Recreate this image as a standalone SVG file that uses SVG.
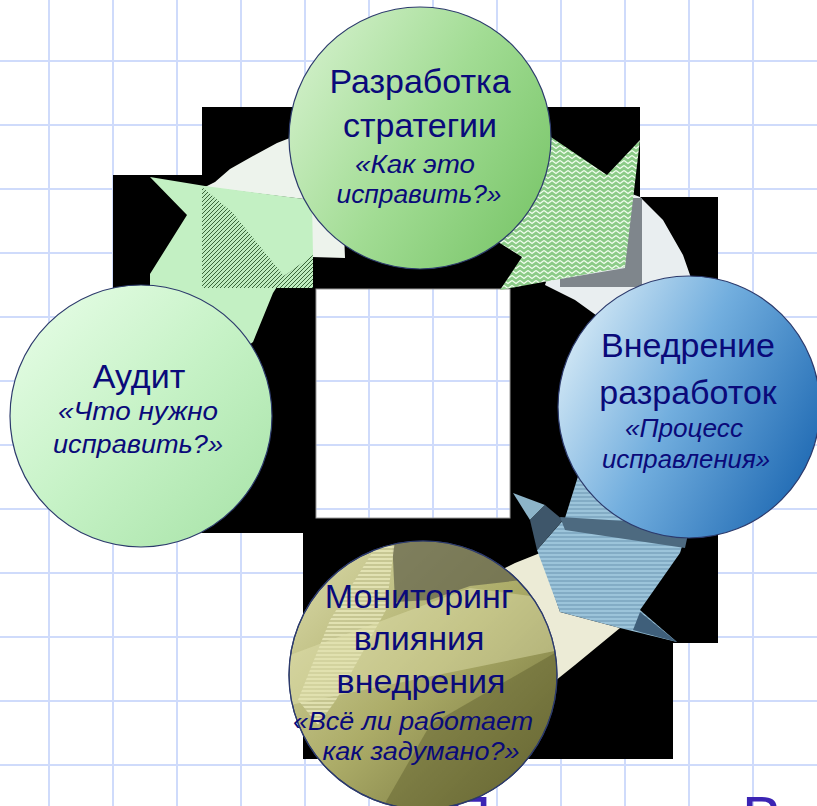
<svg xmlns="http://www.w3.org/2000/svg" width="817" height="806" viewBox="0 0 817 806">
<style>
.t{font-family:"Liberation Sans",Arial,sans-serif;fill:#0a0a7a;text-anchor:middle}
.h{font-size:34px}
.i{font-size:25px;font-style:italic}
.node{stroke:#2c3a6c;stroke-width:1.2}
.grid{stroke:#cfdbfb;stroke-width:2;fill:none}
</style>
<defs>
<linearGradient id="gA" x1="0" y1="0" x2="1" y2="1"><stop offset="0" stop-color="#eafeea"/><stop offset="0.5" stop-color="#c6f2c6"/><stop offset="1" stop-color="#a6e2a6"/></linearGradient>
<linearGradient id="gS" x1="0" y1="0.2" x2="1" y2="0.8"><stop offset="0" stop-color="#d2f0ca"/><stop offset="0.5" stop-color="#a2dc94"/><stop offset="1" stop-color="#7ac66a"/></linearGradient>
<linearGradient id="gI" x1="0" y1="0.25" x2="1" y2="0.75"><stop offset="0" stop-color="#d6eaf6"/><stop offset="0.45" stop-color="#72aede"/><stop offset="1" stop-color="#1d68b2"/></linearGradient>
<linearGradient id="gM" x1="0" y1="0" x2="1" y2="1"><stop offset="0" stop-color="#dcdcac"/><stop offset="0.5" stop-color="#acac68"/><stop offset="1" stop-color="#6a6a34"/></linearGradient>
<pattern id="hatch" width="4" height="4" patternUnits="userSpaceOnUse"><rect width="4" height="4" fill="#bfecbf"/><path d="M0,4 L4,0" stroke="#3a663a" stroke-width="1"/></pattern>
<pattern id="zig" width="8" height="5" patternUnits="userSpaceOnUse"><rect width="8" height="5" fill="#8ccb88"/><path d="M0,0.5 L4,3.5 L8,0.5" stroke="#f2fff0" stroke-width="1.3" fill="none"/></pattern>
<pattern id="hstripe" width="4" height="4" patternUnits="userSpaceOnUse"><rect width="4" height="4" fill="#9cc4da"/><path d="M0,1 H4" stroke="#6a94b0" stroke-width="1"/></pattern>
<pattern id="ystripe" width="4" height="4" patternUnits="userSpaceOnUse"><rect width="4" height="4" fill="#e6e6b8"/><path d="M0,1 H4" stroke="#a8a870" stroke-width="1"/></pattern>
<clipPath id="cM"><circle cx="423" cy="675" r="134"/></clipPath>
</defs>
<rect width="817" height="806" fill="#ffffff"/>
<path class="grid" d="M49,0V806M113,0V806M177,0V806M241,0V806M305,0V806M369,0V806M433,0V806M497,0V806M561,0V806M625,0V806M689,0V806M753,0V806M0,61H817M0,125H817M0,189H817M0,253H817M0,317H817M0,381H817M0,445H817M0,509H817M0,573H817M0,637H817M0,701H817M0,765H817"/>
<g id="backdrop">
<path fill="#000" fill-rule="evenodd" d="M202,107H640V197H718V643H673V759H303V533H113V175H202Z M316,289H510V518H316Z"/>
<rect x="316" y="289" width="194" height="229" fill="none" stroke="#9a9a9a" stroke-width="1"/>
</g>
<g id="title">
<text x="448" y="838" font-family="Liberation Sans,Arial,sans-serif" font-size="60" fill="#3b24b4">П</text>
<text x="742" y="838" font-family="Liberation Sans,Arial,sans-serif" font-size="60" fill="#3b24b4">В</text>
</g>
<g id="connectors">
<path fill="#edf3ec" d="M205,187L215,182L230,169L253,156L277,143L300,134L340,128L345,258L312,257L312,200Z"/>
<path fill="#c3f0c3" d="M150,177L205,186L312,200L313,256L284,276L273,293L253,342L230,360L150,330L150,274L187,215Z"/>
<path fill="url(#hatch)" d="M202,187L232,212L284,276L313,255L313,288L202,288Z"/>
<path fill="#e9eef0" d="M590,178L640,197L663,220L683,255L697,295L640,340L600,318L575,300L545,285L560,240Z"/>
<path fill="#7f868c" d="M628,198L642,198L642,287L560,287L560,279L625,268Z"/>
<path fill="url(#zig)" d="M545,133L607,175L640,140L625,267L500,290L522,257L495,240Z"/>
<path fill="#ecebd6" d="M485,578L515,563L540,553L560,612L620,628L575,665L550,685L520,700Z"/>
<path fill="url(#hstripe)" d="M537,550L565,518L580,470L690,520L680,553L640,610L677,642L620,628L560,612Z"/>
<path fill="#8db4c8" d="M513,493L545,505L530,520Z"/>
<path fill="#3e566a" d="M530,520L545,505L563,520L537,550Z"/>
<path fill="#4d6a80" d="M560,517L690,525L685,548L565,530Z"/>
<path fill="#3f5f7a" d="M640,612L677,642L633,630Z"/>
</g>
<g id="node-audit">
<circle class="node" cx="141" cy="416" r="131" fill="url(#gA)"/>
<text class="t h" x="139" y="388">Аудит</text>
<text class="t i" x="138" y="420" textLength="160" lengthAdjust="spacingAndGlyphs">«Что нужно</text>
<text class="t i" x="138" y="453" textLength="170" lengthAdjust="spacingAndGlyphs">исправить?»</text>
</g>
<g id="node-strategy">
<circle class="node" cx="420" cy="138" r="131" fill="url(#gS)"/>
<text class="t h" x="420" y="93">Разработка</text>
<text class="t h" x="420" y="137">стратегии</text>
<text class="t i" x="415" y="173" textLength="120" lengthAdjust="spacingAndGlyphs">«Как это</text>
<text class="t i" x="419" y="203" textLength="165" lengthAdjust="spacingAndGlyphs">исправить?»</text>
</g>
<g id="node-implementation">
<circle class="node" cx="689" cy="407" r="131" fill="url(#gI)"/>
<text class="t h" x="688" y="357">Внедрение</text>
<text class="t h" x="688" y="404">разработок</text>
<text class="t i" x="684" y="437" textLength="118" lengthAdjust="spacingAndGlyphs">«Процесс</text>
<text class="t i" x="686" y="468" textLength="168" lengthAdjust="spacingAndGlyphs">исправления»</text>
</g>
<g id="node-monitoring">
<circle class="node" cx="423" cy="675" r="134" fill="url(#gM)"/>
<g clip-path="url(#cM)">
<path fill="#66664c" opacity="0.75" d="M392,538L480,543L522,580L470,586L430,600L395,602Z"/>
<path fill="url(#ystripe)" opacity="0.85" d="M375,548L395,540L386,610L336,700L318,725L298,700L330,620Z"/>
<path fill="#e2e2b0" opacity="0.45" d="M290,655L470,588L560,600L560,650L290,705Z"/>
<path fill="#5e5e2c" opacity="0.45" d="M430,725L560,650L560,812L380,812Z"/>
</g>
<circle cx="423" cy="675" r="134" fill="none" stroke="#2c3a6c" stroke-width="1.2"/>
<text class="t h" x="419" y="608">Мониторинг</text>
<text class="t h" x="419" y="650">влияния</text>
<text class="t h" x="421" y="693">внедрения</text>
<text class="t i" x="413" y="730" textLength="240" lengthAdjust="spacingAndGlyphs">«Всё ли работает</text>
<text class="t i" x="421" y="760" textLength="197" lengthAdjust="spacingAndGlyphs">как задумано?»</text>
</g>
</svg>
